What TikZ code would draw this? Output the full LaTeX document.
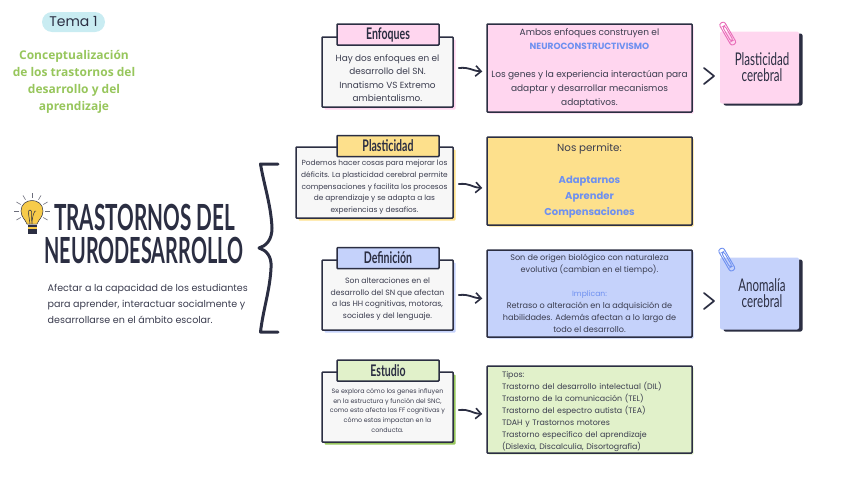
\documentclass[tikz,border=0pt]{standalone}
\usepackage{fontspec}
\usetikzlibrary{arrows.meta,shadows,calc}
\setmainfont{Poppins}
\newfontfamily\hand[FakeStretch=0.66]{Lato}
\newfontfamily\handb[FakeStretch=0.66]{Lato Bold}
\newfontfamily\handt[FakeStretch=0.575]{Lato Bold}
\newfontfamily\handu[FakeStretch=0.552]{Lato Bold}
\newfontfamily\green{Open Sans Bold}
\definecolor{ink}{HTML}{2B2E42}
\definecolor{txt}{HTML}{3A3C4E}
\definecolor{hi}{HTML}{6E90F0}
\definecolor{lime}{HTML}{97C65C}
\definecolor{pinkc}{HTML}{FFD6EF}
\definecolor{yelc}{HTML}{FDE08C}
\definecolor{bluc}{HTML}{C5D2FB}
\definecolor{grnc}{HTML}{E1F1CA}
\definecolor{grnd}{HTML}{97C65C}
\definecolor{paper}{HTML}{F7F7F7}
\definecolor{pill}{HTML}{C9ECF2}
\definecolor{bulb}{HTML}{F7CB4A}
\definecolor{clipp}{HTML}{E86CB8}
\newcommand{\fs}[2]{\fontsize{#1}{#2}\selectfont}
\newcommand{\hl}[1]{{\color{hi}\bfseries #1}}
\newcommand{\pad}[1]{\mbox{\hspace{5pt}#1}}
\tikzset{
  sheet/.style={draw=ink,line width=1.5pt,fill=paper,inner sep=0pt,rounded corners=.8pt,align=center,text=txt,minimum width=131pt,minimum height=70pt,general shadow={fill=#1,shadow xshift=2.5pt,shadow yshift=-2.5pt}},
  tabbox/.style={draw=ink,line width=1.5pt,fill=#1,inner sep=0pt,rounded corners=.8pt,minimum width=102pt,minimum height=21pt,text=ink,font=\handb\fs{16}{16}},
  panel/.style={draw=ink,line width=1.5pt,fill=#1,inner sep=0pt,rounded corners=.8pt,align=center,text=txt,minimum width=205pt,minimum height=87pt,general shadow={fill=#1,shadow xshift=1.5pt,shadow yshift=-1.5pt}},
  sticky/.style={fill=#1,inner sep=0pt,align=center,text=ink,minimum width=79pt,minimum height=72pt,rounded corners=2pt,font=\hand\fs{17.5}{16},general shadow={fill=ink,shadow xshift=3.5pt,shadow yshift=-2pt}},
  linkarrow/.style={draw=ink,line width=1.8pt,line cap=round,-{Straight Barb[length=5.5pt,width=10.5pt,line width=1.6pt]}},
  chev/.style={draw=ink,line width=1.7pt,line cap=round,line join=round},
  clipline/.style={draw=#1,line width=.9pt,rounded corners=2.4pt},
  ray/.style={draw=ink!70,line width=.6pt}
}
\begin{document}
\begin{tikzpicture}[x=1pt,y=-1pt]
\useasboundingbox (0,0) rectangle (848,477);
% header
\node[fill=pill,rounded corners=10pt,minimum width=63pt,minimum height=20pt,inner sep=0pt,text=ink,font=\fs{14}{14}] (tema) at (73.5,22) {Tema 1};
\node[text=lime,align=center,inner sep=0pt,font=\green\fs{12}{17}] (concept) at (74,81.5) {Conceptualización\\de los trastornos del\\desarrollo y del\\aprendizaje};
% bulb
\foreach \a in {150,180,210,240,270,300,330,0,30}{\draw[ray] ($(32,211)+(\a:13)$) -- ($(32,211)+(\a:18)$);}
\fill[bulb,draw=ink,line width=.5pt] (27,224) .. controls (25,219) and (21,217) .. (21,211) .. controls (21,197) and (43,197) .. (43,211) .. controls (43,217) and (39,219) .. (37,224) -- cycle;
\draw[ink,line width=.5pt] (30,224) .. controls (29,215) and (27,210) .. (30,210) .. controls (33,210) and (31,216) .. (32,224) .. controls (32,216) and (35,209) .. (36,211);
\fill[ink] (27.5,225) rectangle (36.5,234);
\fill[bulb] (27.5,226.5) rectangle (36.5,228.5);
% title
\node[text=ink,inner sep=0pt,font=\handt\fs{36}{36}] (t1) at (144.5,217) {TRASTORNOS DEL};
\node[text=ink,inner sep=0pt,font=\handu\fs{36}{36}] (t2) at (144,250) {NEURODESARROLLO};
\node[text=txt,align=left,anchor=west,inner sep=0pt,font=\fs{9.55}{16}] (intro) at (47.5,304) {Afectar a la capacidad de los estudiantes\\para aprender, interactuar socialmente y\\desarrollarse en el ámbito escolar.};
% brace
\draw[ink,line width=3pt,line cap=round,line join=round] (278,164) -- (260.5,164) .. controls (264,185) and (271,205) .. (272,228) .. controls (272,240) and (266,246) .. (259,248) .. controls (266,250) and (272,256) .. (271,268) .. controls (270,290) and (263,310) .. (260.5,332) -- (278,332);
% row 1
\node[sheet=pinkc,font=\fs{8.9}{13.5}] (l1) at (387.5,72) {\mbox{}\\[5.5pt]Hay dos enfoques en el\\desarrollo del SN.\\Innatismo VS Extremo\\ambientalismo.};
\node[tabbox=pinkc] (tab1) at (388,34.5) {Enfoques};
\node[panel=pinkc,font=\fs{9}{14},minimum height=88pt] (r1) at (589.5,68) {Ambos enfoques construyen el\\\hl{NEUROCONSTRUCTIVISMO}\\[14pt]Los genes y la experiencia interactúan para\\adaptar y desarrollar mecanismos\\adaptativos.};
\node[sticky=pinkc] (s1) at (759.5,67.5) {\pad{Plasticidad}\\\pad{cerebral}};
% row 2
\node[sheet=yelc,font=\fs{7.4}{11.6},minimum width=157pt,minimum height=71pt] (l2) at (374.5,182.5) {\mbox{}\\[3.4pt]Podemos hacer cosas para mejorar los\\déficits. La plasticidad cerebral permite\\compensaciones y facilita los procesos\\de aprendizaje y se adapta a las\\experiencias y desafíos.};
\node[tabbox=yelc] (tab2) at (388,146) {Plasticidad};
\node[panel=yelc,font=\fs{10}{16},minimum height=88pt] (r2) at (589.5,181) {{\fs{10.3}{16}Nos permite:}\\[16pt]\hl{Adaptarnos}\\\hl{Aprender}\\\hl{Compensaciones}};
% row 3
\node[sheet=bluc,font=\fs{7.7}{11.7}] (l3) at (387.5,295) {\mbox{}\\[2.3pt]Son alteraciones en el\\desarrollo del SN que afectan\\a las HH cognitivas, motoras,\\sociales y del lenguaje.};
\node[tabbox=bluc] (tab3) at (388,258) {Definición};
\node[panel=bluc,font=\fs{8.1}{12}] (r3) at (589.5,293.5) {Son de origen biológico con naturaleza\\evolutiva (cambian en el tiempo).\\[12pt]{\color{hi}\fs{7.6}{12}Implican:}\\Retraso o alteración en la adquisición de\\habilidades. Además afectan a lo largo de\\todo el desarrollo.};
\node[sticky=bluc] (s3) at (759.5,293.5) {\pad{Anomalía}\\\pad{cerebral}};
% row 4
\node[sheet=grnd,font=\fs{6.35}{9.7}] (l4) at (387.5,407) {\mbox{}\\[2.3pt]Se explora cómo los genes influyen\\en la estructura y función del SNC,\\como esto afecta las FF cognitivas y\\cómo estas impactan en la\\conducta.};
\node[tabbox=grnc] (tab4) at (388,370.5) {Estudio};
\node[panel=grnc,align=left,text width=175pt,inner xsep=15pt,font=\fs{7.9}{12}] (r4) at (589.5,409.5) {\rule{0pt}{10pt}Tipos:\\Trastorno del desarrollo intelectual (DIL)\\Trastorno de la comunicación (TEL)\\Trastorno del espectro autista (TEA)\\TDAH y Trastornos motores\\Trastorno específico del aprendizaje\\(Dislexia, Discalculia, Disortografía)};
% connectors
\draw[linkarrow] ([xshift=5pt,yshift=4pt]l1.east) .. controls +(12pt,1pt) and +(-12pt,1pt) .. ([xshift=-4pt,yshift=-3.5pt]r1.west);
\draw[linkarrow] ([xshift=5pt,yshift=-1.5pt]l2.east) .. controls +(12pt,1pt) and +(-12pt,1pt) .. ([xshift=-4pt,yshift=-7pt]r2.west);
\draw[linkarrow] ([xshift=5pt,yshift=0pt]l3.east) .. controls +(12pt,1pt) and +(-12pt,1pt) .. ([xshift=-4pt,yshift=-5pt]r3.west);
\draw[linkarrow] ([xshift=5pt,yshift=-3pt]l4.east) .. controls +(12pt,1pt) and +(-12pt,1pt) .. ([xshift=-4pt,yshift=-4.5pt]r4.west);
% chevrons
\draw[chev] (704,68) -- (714,76) -- (704,84);
\draw[chev] (704,293) -- (714,301) -- (704,309);
% clips
\begin{scope}[shift={(728,34)},rotate=30]
\draw[clipline=clipp] (-3,-13) rectangle (3,12);
\draw[clipline=clipp] (-1.2,-9) rectangle (1.4,8);
\end{scope}
\begin{scope}[shift={(727,260)},rotate=30]
\draw[clipline=hi] (-3,-13) rectangle (3,12);
\draw[clipline=hi] (-1.2,-9) rectangle (1.4,8);
\end{scope}
\end{tikzpicture}
\end{document}
